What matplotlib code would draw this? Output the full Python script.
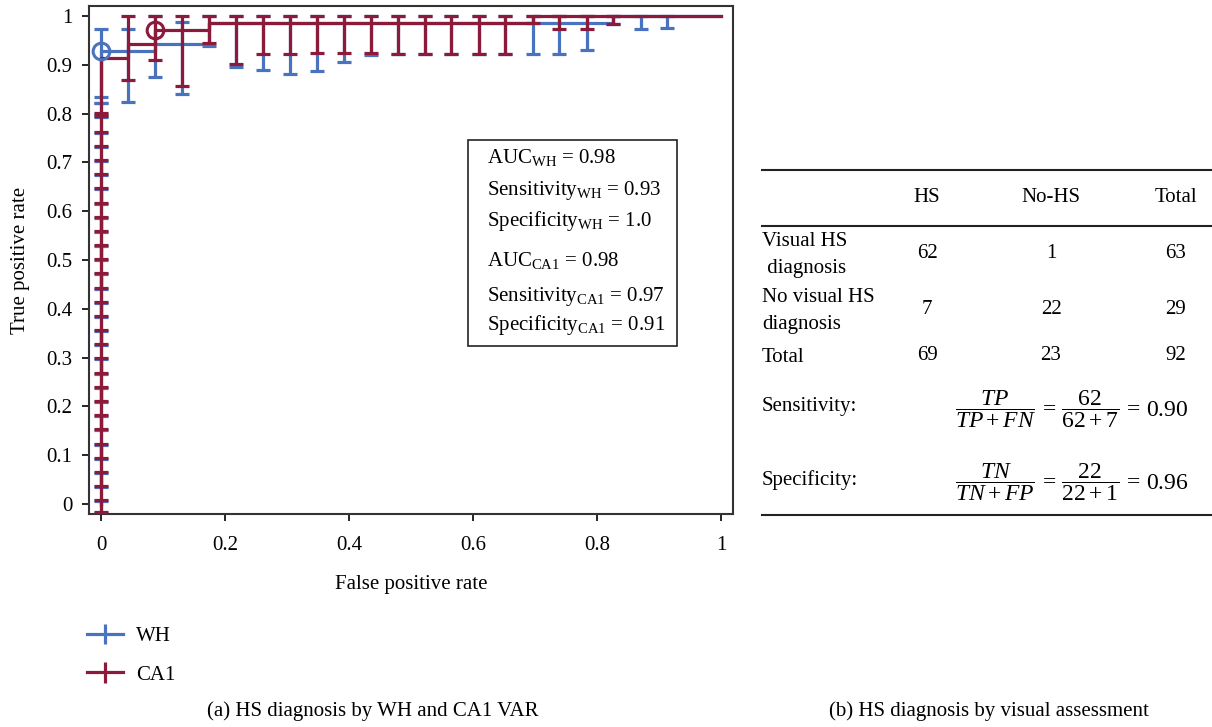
import matplotlib

matplotlib.use("Agg")
import matplotlib.pyplot as plt
import numpy as np
from matplotlib.patches import Rectangle

plt.rcParams["font.family"] = ["Liberation Serif", "DejaVu Serif"]
plt.rcParams["font.size"] = 15
plt.rcParams["mathtext.fontset"] = "custom"
plt.rcParams["mathtext.rm"] = "Liberation Serif"
plt.rcParams["mathtext.it"] = "Liberation Serif:italic"
plt.rcParams["mathtext.bf"] = "Liberation Serif:bold"

BLUE = "#4a73bf"
RED = "#8c1a3a"
FS = 15

# ROC curves (step functions)
WH_FPR = [0.0, 0.0, 0.087, 0.174, 0.826, 1.0]
WH_TPR = [0.0, 0.928, 0.942, 0.986, 1.0, 1.0]
CA1_FPR = [0.0, 0.0, 0.043, 0.087, 0.174, 0.696, 1.0]
CA1_TPR = [0.0, 0.913, 0.942, 0.971, 0.986, 1.0, 1.0]

# optimal operating points
WH_OPT = (0.0, 0.928)
CA1_OPT = (0.087, 0.971)

# confidence intervals of TPR at each FPR step (lower / upper)
WH_BAR_X = [0.0] * 15 + [0.0, 0.0, 0.043, 0.087, 0.130, 0.174, 0.217, 0.261, 0.304, 0.348,
                         0.391, 0.435, 0.478, 0.522, 0.565, 0.609, 0.652, 0.696, 0.739,
                         0.783, 0.826, 0.870, 0.913]
WH_BAR_LO = [-0.019, 0.035, 0.092, 0.152, 0.209, 0.266, 0.326, 0.383, 0.441, 0.500,
             0.557, 0.615, 0.674, 0.732, 0.793,
             0.821, 0.835, 0.823, 0.876, 0.840, 0.939, 0.895, 0.889, 0.882, 0.887,
             0.905, 0.921, 0.922, 0.922, 0.922, 0.922, 0.922, 0.922, 0.922,
             0.930, 0.984, 0.973, 0.975]
WH_BAR_HI = [0.006, 0.064, 0.121, 0.180, 0.238, 0.297, 0.355, 0.412, 0.471, 0.529,
             0.586, 0.646, 0.703, 0.760, 0.800,
             0.821, 0.973, 0.973, 1.0, 0.988, 1.0, 1.0, 1.0, 1.0, 1.0,
             1.0, 1.0, 1.0, 1.0, 1.0, 1.0, 1.0, 1.0, 1.0,
             1.0, 1.0, 1.0, 1.0]

CA1_BAR_X = [0.0] * 15 + [0.043, 0.087, 0.130, 0.174, 0.217, 0.261, 0.304, 0.348, 0.391,
                          0.435, 0.478, 0.522, 0.565, 0.609, 0.652, 0.696, 0.739, 0.783,
                          0.826]
CA1_BAR_LO = [-0.017, 0.037, 0.094, 0.154, 0.211, 0.268, 0.328, 0.385, 0.443, 0.502,
              0.559, 0.617, 0.676, 0.734, 0.795,
              0.869, 0.910, 0.857, 0.944, 0.901, 0.923, 0.923, 0.925, 0.925,
              0.925, 0.923, 0.923, 0.923, 0.923, 0.923, 0.986, 0.973, 0.973, 0.984]
CA1_BAR_HI = [0.008, 0.066, 0.123, 0.182, 0.240, 0.299, 0.357, 0.414, 0.473, 0.531,
              0.588, 0.648, 0.705, 0.762, 0.802,
              1.0, 1.0, 1.0, 1.0, 1.0, 1.0, 1.0, 1.0, 1.0,
              1.0, 1.0, 1.0, 1.0, 1.0, 1.0, 1.0, 1.0, 1.0, 1.0]

STATS_WH = {"AUC": "0.98", "Sensitivity": "0.93", "Specificity": "1.0"}
STATS_CA1 = {"AUC": "0.98", "Sensitivity": "0.97", "Specificity": "0.91"}

# contingency table for visual assessment
COL_LABELS = ["HS", "No-HS", "Total"]
ROW_LABELS = ["Visual HS\n diagnosis", "No visual HS\ndiagnosis", "Total"]
TABLE_VALUES = [[62, 1, 63], [7, 22, 29], [69, 23, 92]]

W, H = 1212, 727
fig = plt.figure(figsize=(W / 100, H / 100), dpi=100)
ax = fig.add_axes([89 / W, 1 - 514 / H, (733 - 89) / W, (514 - 6) / H])

ebkw = dict(fmt="none", elinewidth=2.3, capsize=4.8, capthick=2.3)


def draw_bars(x, lo, hi, color, z):
    lo = np.array(lo)
    hi = np.array(hi)
    ax.errorbar(x, lo, yerr=[np.zeros_like(lo), hi - lo], ecolor=color, zorder=z, **ebkw)


draw_bars(WH_BAR_X, WH_BAR_LO, WH_BAR_HI, BLUE, 2)
ax.plot(WH_FPR, WH_TPR, drawstyle="steps-post", color=BLUE, lw=2.3, zorder=2.5)
draw_bars(CA1_BAR_X, CA1_BAR_LO, CA1_BAR_HI, RED, 3)
ax.plot(CA1_FPR, CA1_TPR, drawstyle="steps-post", color=RED, lw=2.3, zorder=3.5)
ax.plot(*WH_OPT, "o", ms=12, mfc="none", mec=BLUE, mew=2.2, zorder=5)
ax.plot(*CA1_OPT, "o", ms=12, mfc="none", mec=RED, mew=2.2, zorder=5)

ax.set_xlim(-0.0195, 1.019)
ax.set_ylim(-0.0205, 1.0205)
ax.set_xticks(np.arange(0, 1.01, 0.2))
ax.set_xticklabels(["0", "0.2", "0.4", "0.6", "0.8", "1"])
ax.set_yticks(np.arange(0, 1.01, 0.1))
ax.set_yticklabels(["0"] + [f"{v:.1f}" for v in np.arange(0.1, 0.95, 0.1)] + ["1"])
ax.tick_params(direction="out", length=5, width=1.2, labelsize=FS, pad=7)
ax.tick_params(axis="x", pad=11)
for s in ax.spines.values():
    s.set_linewidth(1.5)
    s.set_color("#333333")
ax.set_xlabel("False positive rate", fontsize=FS, labelpad=14)
ax.set_ylabel("True positive rate", fontsize=FS, labelpad=12)

# stats box
ax.add_patch(Rectangle((0.592, 0.324), 0.337, 0.422, fill=False, lw=1.2,
                       ec="#222222", zorder=6))
lines = []
for tag, st in (("WH", STATS_WH), ("CA1", STATS_CA1)):
    for k in ("AUC", "Sensitivity", "Specificity"):
        lines.append(k + r"$_{\mathrm{" + tag + "}}$ = " + st[k])
line_y = [0.711, 0.643, 0.580, 0.498, 0.426, 0.367]
for txt, yy in zip(lines, line_y):
    ax.text(0.623, yy, txt, fontsize=FS, va="center", ha="left", zorder=7)

# legend
h_wh = ax.errorbar([], [], yerr=[], fmt="-", color=BLUE, lw=2.3, capsize=4,
                   capthick=2.3, elinewidth=2.3, label="WH")
h_ca = ax.errorbar([], [], yerr=[], fmt="-", color=RED, lw=2.3, capsize=4,
                   capthick=2.3, elinewidth=2.3, label="CA1")
fig.legend(handles=[h_wh, h_ca], loc="upper left", bbox_to_anchor=(68 / W, 1 - 608 / H),
           frameon=False, fontsize=FS, handlelength=1.75, handletextpad=0.6,
           labelspacing=0.9)

# table (b) in pixel coordinates
ov = fig.add_axes([0, 0, 1, 1])
ov.set_xlim(0, W)
ov.set_ylim(H, 0)
ov.axis("off")
ov.patch.set_alpha(0)

for yy in (170, 226, 515):
    ov.plot([762, W], [yy, yy], color="#222222", lw=1.5)

col_x = [927, 1051, 1176]
for cx, lab in zip(col_x, COL_LABELS):
    ov.text(cx, 197, lab, ha="center", va="center", fontsize=FS)
row_y = [255, 311, 357]
for ry, rlab, vals in zip(row_y, ROW_LABELS, TABLE_VALUES):
    ov.text(762, ry, rlab, ha="left", va="center", fontsize=FS, linespacing=1.55)
    for cx, v in zip(col_x, vals):
        ov.text(cx, ry - 2, str(v), ha="center", va="center", fontsize=FS)

tp, fp = TABLE_VALUES[0][0], TABLE_VALUES[0][1]
fn, tn = TABLE_VALUES[1][0], TABLE_VALUES[1][1]
sens = tp / (tp + fn)
spec = tn / (tn + fp)
ov.text(762, 407, "Sensitivity:", ha="left", va="center", fontsize=FS)
ov.text(1072, 409,
        r"$\dfrac{TP}{TP + FN}\,=\,\dfrac{%d}{%d + %d}\,=\,%.2f$" % (tp, tp, fn, sens),
        ha="center", va="center", fontsize=17)
ov.text(762, 480, "Specificity:", ha="left", va="center", fontsize=FS)
ov.text(1072, 482,
        r"$\dfrac{TN}{TN + FP}\,=\,\dfrac{%d}{%d + %d}\,=\,%.2f$" % (tn, tn, fp, spec),
        ha="center", va="center", fontsize=17)

fig.text(373 / W, 1 - 711 / H, "(a) HS diagnosis by WH and CA1 VAR", ha="center",
         va="center", fontsize=FS)
fig.text(989 / W, 1 - 711 / H, "(b) HS diagnosis by visual assessment", ha="center",
         va="center", fontsize=FS)

fig.savefig("out.png", dpi=100)
